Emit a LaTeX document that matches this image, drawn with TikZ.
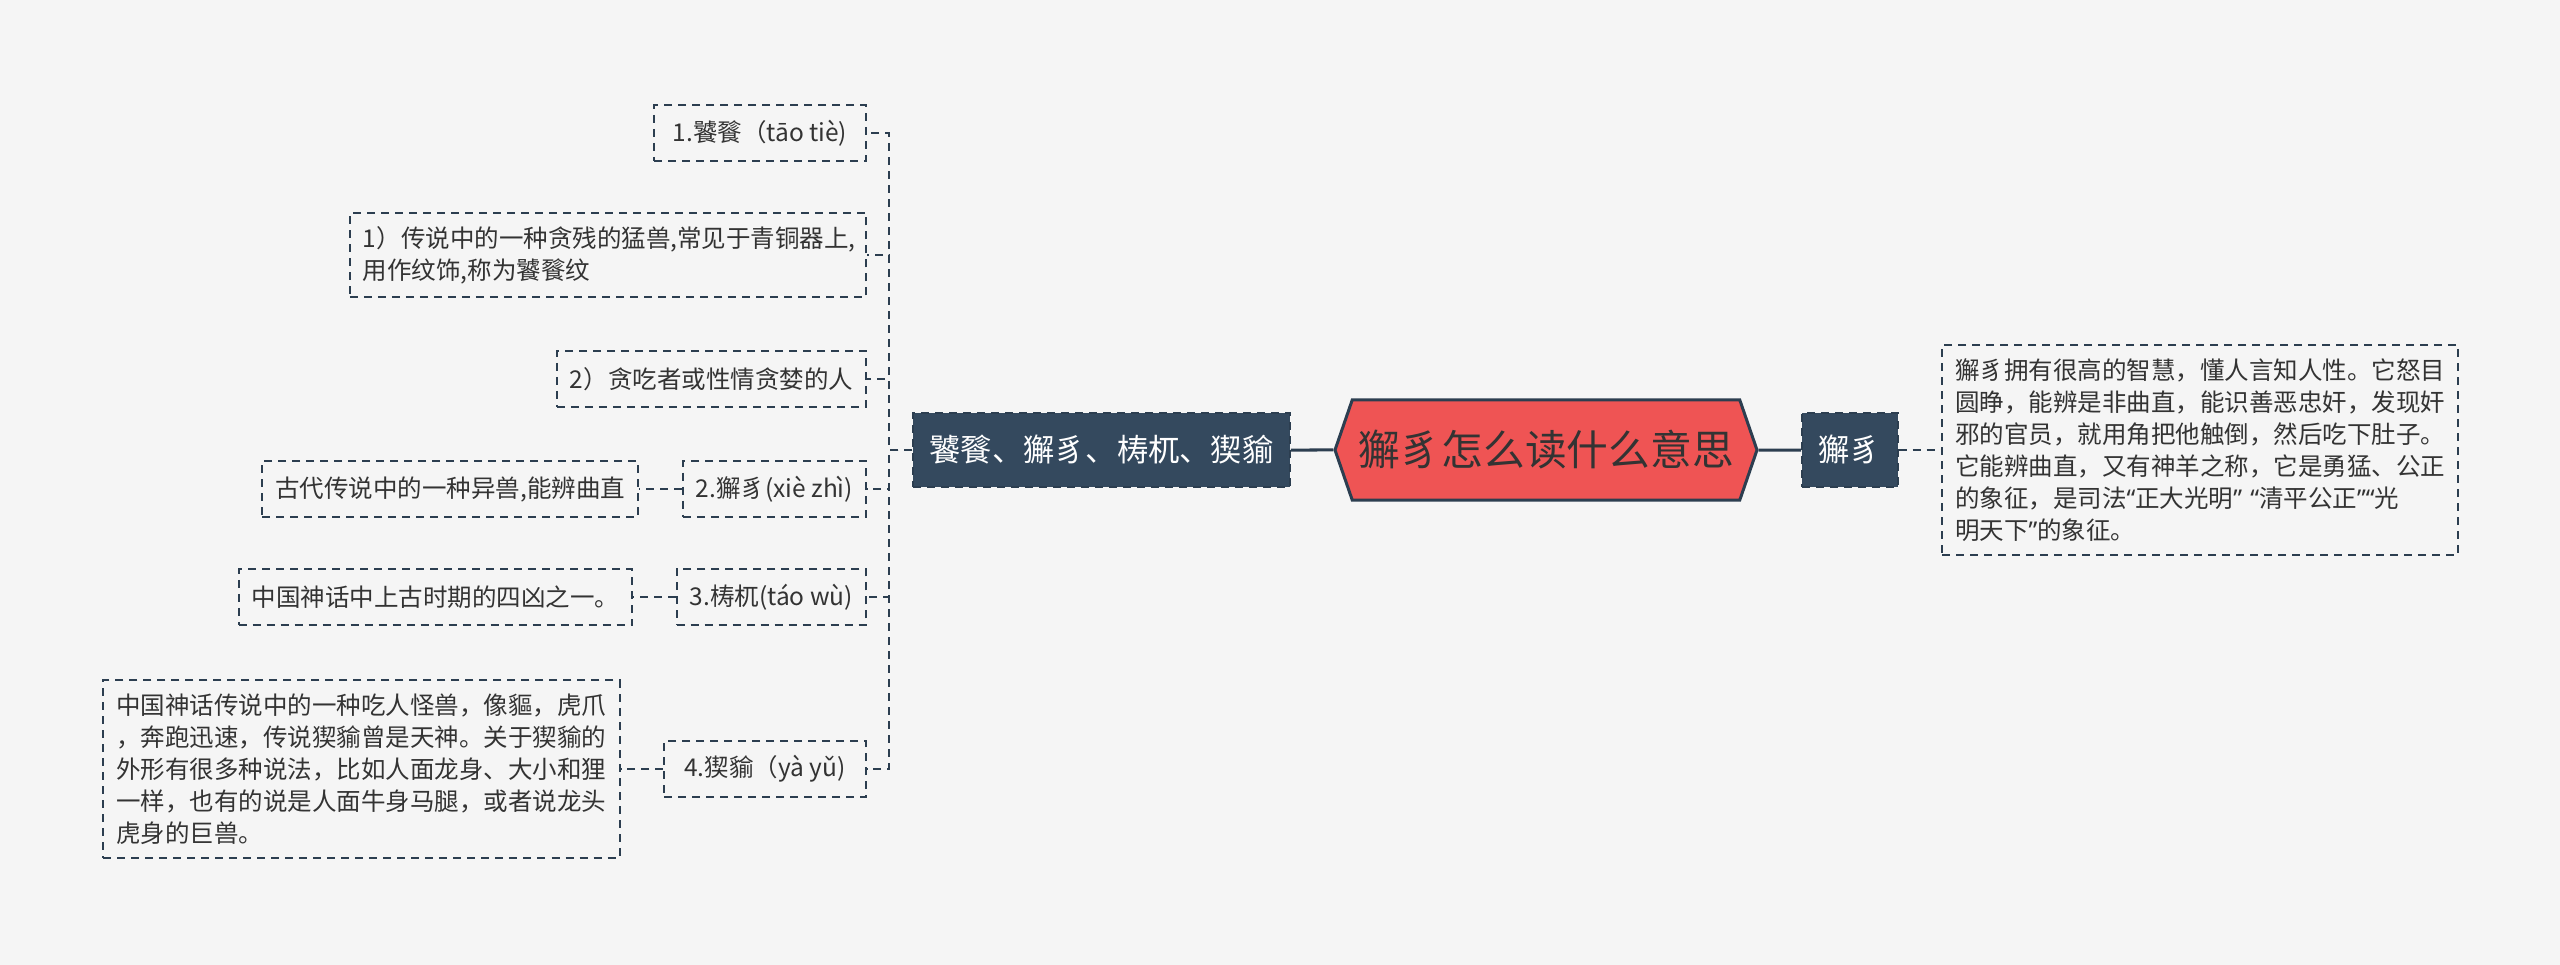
\documentclass[tikz,border=0pt]{standalone}
\usepackage{fontspec}
\setmainfont{Noto Sans CJK SC}
\newfontfamily\latf{Noto Sans}
\usetikzlibrary{positioning,shapes.symbols}
\definecolor{bgc}{HTML}{F5F5F5}
\definecolor{edge}{HTML}{2C3E50}
\definecolor{dark}{HTML}{34495E}
\definecolor{rootred}{HTML}{EF5454}
\definecolor{txt}{HTML}{333333}
\newcommand\oq{{\latf“}}
\newcommand\cq{{\latf”}}

\begin{document}
\begin{tikzpicture}[
  x=0.4pt, y=-0.4pt,
  node distance=17pt,
  font=\fontsize{9.8}{12.8}\selectfont,
  leaf/.style={draw=edge, line width=0.8pt, dash pattern=on 3.2pt off 2.4pt,
               text=txt, inner xsep=5.2pt, inner ysep=5.4pt, minimum height=22.4pt},
  para/.style={leaf, text width=196pt, align=left},
  topic/.style={fill=dark, draw=edge, line width=0.8pt, dash pattern=on 3.2pt off 2.4pt,
                text=white, font=\fontsize{12.5}{15}\selectfont,
                inner xsep=6.6pt, minimum height=29.6pt},
  hexa/.style={shape=signal, signal to=west and east, signal pointer angle=142,
               fill=rootred, draw=edge, line width=1.2pt, text=txt,
               font=\fontsize{16.7}{20}\selectfont, inner sep=0pt,
               minimum width=168.8pt, minimum height=40pt},
  link/.style={draw=edge, line width=1.2pt},
  dlink/.style={draw=edge, line width=0.8pt, dash pattern=on 3.2pt off 2.4pt}
]
\fill[bgc] (0,0) rectangle (2560,965);

\node[hexa] (root) at (1546,450) {獬豸怎么读什么意思};
\node[topic, left=of root] (main) {饕餮、獬豸、梼杌、猰貐};
\node[topic, right=of root] (xz) {獬豸};
\node[para, right=of xz] (xzd)
     {獬豸拥有很高的智慧，懂人言知人性。它怒目\\
      圆睁，能辨是非曲直，能识善恶忠奸，发现奸\\
      邪的官员，就用角把他触倒，然后吃下肚子。\\
      它能辨曲直，又有神羊之称，它是勇猛、公正\\
      的象征，是司法\oq 正大光明\cq{} \oq 清平公正\cq\oq 光\\
      明天下\cq 的象征。};

\node[leaf, anchor=east, minimum width=84.8pt] (t1) at (867,133) {1.饕餮（tāo tiè)};
\node[para, anchor=east] (d1) at (867,255)
     {1）传说中的一种贪残的猛兽,常见于青铜器上,\\
      用作纹饰,称为饕餮纹};
\node[leaf, anchor=east] (d2) at (867,379) {2）贪吃者或性情贪婪的人};
\node[leaf, anchor=east] (t2) at (867,489) {2.獬豸(xiè zhì)};
\node[leaf, left=of t2] (c2) {古代传说中的一种异兽,能辨曲直};
\node[leaf, anchor=east] (t3) at (867,597) {3.梼杌(táo wù)};
\node[leaf, left=of t3] (c3) {中国神话中上古时期的四凶之一。};
\node[leaf, anchor=east, minimum width=80.8pt] (t4) at (867,769) {4.猰貐（yà yǔ)};
\node[para, left=of t4] (c4)
     {中国神话传说中的一种吃人怪兽，像貙，虎爪\\
      ，奔跑迅速，传说猰貐曾是天神。关于猰貐的\\
      外形有很多种说法，比如人面龙身、大小和狸\\
      一样，也有的说是人面牛身马腿，或者说龙头\\
      虎身的巨兽。};

\draw[link] (main) -- (root);
\draw[link] (root) -- (xz);
\draw[dlink] (xz) -- (xzd);
\foreach \k in {t1,d1,d2,t2,t3,t4}
  \draw[dlink] (main.west) -- ++(-23,0) |- (\k.east);
\draw[dlink] (t2) -- (c2);
\draw[dlink] (t3) -- (c3);
\draw[dlink] (t4) -- (c4);
\end{tikzpicture}
\end{document}
